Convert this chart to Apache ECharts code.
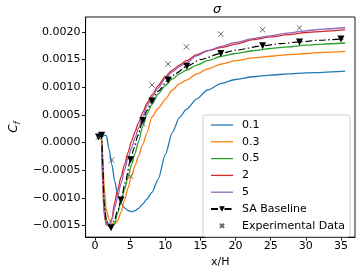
<!DOCTYPE html>
<html>
<head>
<meta charset="utf-8">
<script src="https://cdn.jsdelivr.net/npm/echarts@6/dist/echarts.min.js"></script>
<style>
html,body{margin:0;padding:0;background:#fff;}
#chart{width:361px;height:273px;}
</style>
</head>
<body>
<div id="chart"></div>
<script>
// ---- data ----
var xGrid = [0.5, 0.9, 1.1, 1.3, 1.6, 2.0, 2.4, 2.8, 3.2, 3.7, 4.2, 4.7, 5.2, 5.7, 6.2, 6.8, 7.4, 8.1, 9.0, 10.0, 11.0, 12.0, 13.0, 14.5, 16.0, 18.0, 20.0, 22.5, 25.0, 27.5, 30.0, 32.5, 35.6];
var sigma01 = [0.0001, 0.0001, 0.00011, 0.00013, 0.00013, -0.00012, -0.0004, -0.0007, -0.00093, -0.00109, -0.00118, -0.00123, -0.00125, -0.00123, -0.00119, -0.00111, -0.00102, -0.0009, -0.00066, -0.00022, 0.00018, 0.00045, 0.0006, 0.00079, 0.00095, 0.00107, 0.00114, 0.00119, 0.00122, 0.00124, 0.00126, 0.00127, 0.00129];
var sigma03 = [0.0001, 0.00013, -0.0002, -0.0008, -0.0012, -0.0014, -0.00146, -0.00148, -0.00142, -0.00126, -0.00104, -0.00082, -0.0006, -0.00042, -0.00024, -0.00003, 0.00018, 0.00046, 0.00062, 0.00078, 0.00095, 0.00106, 0.00113, 0.00124, 0.00133, 0.00142, 0.00148, 0.00153, 0.00156, 0.00159, 0.00161, 0.00163, 0.00165];
var sigma05 = [0.0001, 0.00012, -0.0004, -0.0011, -0.0014, -0.0015, -0.00153, -0.00146, -0.00128, -0.00108, -0.00085, -0.00062, -0.0004, -0.00019, 0.00002, 0.0003, 0.00052, 0.00069, 0.00088, 0.00103, 0.00115, 0.00124, 0.00131, 0.0014, 0.00148, 0.00156, 0.00161, 0.00166, 0.0017, 0.00173, 0.00176, 0.00178, 0.0018];
var sigma2 = [0.0001, 0.00012, -0.0008, -0.0013, -0.00149, -0.0015, -0.00138, -0.00108, -0.00087, -0.00062, -0.0004, -0.00018, 0.00003, 0.0002, 0.00036, 0.00055, 0.00071, 0.00086, 0.00103, 0.00119, 0.00131, 0.0014, 0.00148, 0.00159, 0.00166, 0.00172, 0.00178, 0.00186, 0.00191, 0.00195, 0.00199, 0.00201, 0.00204];
var sigma5 = [0.0001, 0.00012, -0.0006, -0.00125, -0.00147, -0.0015, -0.0014, -0.00118, -0.00099, -0.00074, -0.0005, -0.00028, -0.0001, 0.00009, 0.00026, 0.00048, 0.00066, 0.00082, 0.00099, 0.00116, 0.00128, 0.00137, 0.00144, 0.00157, 0.00166, 0.00174, 0.00181, 0.00188, 0.00193, 0.00198, 0.00202, 0.00205, 0.00208];

var saX = [0.5, 0.95, 1.1, 1.3, 1.6, 2.0, 2.28, 2.7, 3.2, 3.7, 4.3, 5.06, 5.55, 6.1, 6.8, 7.4, 8.1, 9.0, 10.4, 11.5, 13.06, 15.0, 17.9, 20.0, 23.85, 26.5, 29.1, 32.0, 35.0, 35.6];
var saY = [0.0001, 0.00013, -0.0004, -0.0011, -0.0014, -0.00152, -0.00154, -0.00142, -0.00124, -0.00104, -0.00072, -0.00031, -0.0001, 0.00013, 0.0004, 0.00058, 0.00075, 0.00093, 0.00113, 0.00125, 0.00138, 0.0015, 0.00161, 0.00167, 0.00175, 0.00179, 0.00182, 0.00185, 0.00187, 0.00188];
var saMarkerX = [0.5, 0.95, 2.28, 3.7, 5.06, 6.8, 8.1, 10.4, 13.06, 17.9, 23.85, 29.1, 35.0];

var expX = [0.5, 2.37, 5.06, 6.8, 8.1, 10.4, 13.0, 17.9, 23.85, 29.1];
var expY = [0.0001, -0.000315, -0.00061, 0.00034, 0.00104, 0.00142, 0.00173, 0.00196, 0.00204, 0.00207];

var seriesNames = ['0.1', '0.3', '0.5', '2', '5'];
var seriesColors = ['#1f77b4', '#ff7f0e', '#2ca02c', '#d62728', '#9467bd'];
var xTicks = [0, 5, 10, 15, 20, 25, 30, 35];
var yTicks = [-0.0015, -0.0010, -0.0005, 0.0000, 0.0005, 0.0010, 0.0015, 0.0020];

// ---- build ----
var FONT = 'DejaVu Sans';
function pairs(xs, ys) { return xs.map(function (x, i) { return [x, ys[i]]; }); }
var simValues = [sigma01, sigma03, sigma05, sigma2, sigma5];
var series = simValues.map(function (ys, k) {
  return {
    name: seriesNames[k], type: 'line', data: pairs(xGrid, ys),
    symbol: 'none', smooth: 0.25, smoothMonotone: 'x',
    lineStyle: { color: seriesColors[k], width: 1.3 },
    itemStyle: { color: seriesColors[k] },
    z: 2 + k
  };
});
var triPath = 'path://M0,0L10,0L5,9Z';
series.push({
  name: 'SA Baseline', type: 'line',
  data: saX.map(function (x, i) {
    var marked = saMarkerX.indexOf(x) >= 0;
    return { value: [x, saY[i]], symbol: marked ? triPath : 'none' };
  }),
  symbol: triPath, symbolSize: 7, showSymbol: true, smooth: 0.25, smoothMonotone: 'x',
  lineStyle: { color: '#000', width: 1.2, type: [7, 2.5, 1.5, 2.5] },
  itemStyle: { color: '#000' },
  z: 10
});
var crossPath = 'path://M0,0M20,20M4,4L16,16M16,4L4,16';
series.push({
  name: 'Experimental Data', type: 'scatter', data: pairs(expX, expY),
  symbol: crossPath, symbolSize: 9,
  itemStyle: { color: 'none', borderColor: '#444', borderWidth: 1 },
  z: 11
});

var lineIcon = 'path://M0,0L22,0L22,1.3L0,1.3Z';
var legendData = seriesNames.map(function (n) { return { name: n, icon: lineIcon }; })
  .concat([{ name: 'SA Baseline' }, { name: 'Experimental Data' }]);

var chart = echarts.init(document.getElementById('chart'), null, { renderer: 'canvas' });
chart.setOption({
  animation: false,
  backgroundColor: '#fff',
  textStyle: { fontFamily: FONT },
  title: {
    text: 'σ', left: 212, top: -2, textAlign: 'center',
    textStyle: { fontFamily: FONT, fontSize: 13, fontStyle: 'italic', fontWeight: 'normal', color: '#000' }
  },
  grid: { left: 69, right: 6, top: 17, bottom: 32, show: true, borderColor: '#000', borderWidth: 0.9, containLabel: false },
  xAxis: {
    type: 'value', min: -1.34, max: 37.0,
    name: 'x/H', nameLocation: 'middle', nameGap: 15,
    nameTextStyle: { fontFamily: FONT, fontSize: 11, color: '#000' },
    axisLine: { show: true, onZero: false, lineStyle: { color: '#000', width: 0.9 } },
    axisTick: { show: true, length: 3.5, lineStyle: { color: '#000', width: 0.9 }, customValues: xTicks },
    axisLabel: { fontFamily: FONT, fontSize: 11, color: '#000', margin: 4, customValues: xTicks,
      formatter: function (v) { return String(v); } },
    splitLine: { show: false }
  },
  yAxis: {
    type: 'value', min: -0.00171, max: 0.00227,
    name: '{c|C}{f|f}', nameLocation: 'middle', nameGap: 56, nameRotate: 90,
    nameTextStyle: { fontFamily: FONT, color: '#000',
      rich: {
        c: { fontFamily: FONT, fontSize: 12, fontStyle: 'italic', color: '#000', lineHeight: 16, verticalAlign: 'middle' },
        f: { fontFamily: FONT, fontSize: 8, fontStyle: 'italic', color: '#000', lineHeight: 16, verticalAlign: 'bottom' }
      } },
    axisLine: { show: true, onZero: false, lineStyle: { color: '#000', width: 0.9 } },
    axisTick: { show: true, length: 3.5, lineStyle: { color: '#000', width: 0.9 }, customValues: yTicks },
    axisLabel: { fontFamily: FONT, fontSize: 11, color: '#000', margin: 5, customValues: yTicks,
      formatter: function (v) { return v.toFixed(4).replace('-', '\u2212'); } },
    splitLine: { show: false }
  },
  legend: {
    orient: 'vertical', left: 203, top: 115,
    padding: [4, 5, 5, 7],
    itemWidth: 22, itemHeight: 7, itemGap: 4.8,
    backgroundColor: 'rgba(255,255,255,0.8)', borderColor: '#d0d0d0', borderWidth: 1, borderRadius: 3,
    textStyle: { fontFamily: FONT, fontSize: 11, color: '#000', lineHeight: 12, padding: [0, 0, 0, 4] },
    data: legendData
  },
  series: series
});
</script>
</body>
</html>
